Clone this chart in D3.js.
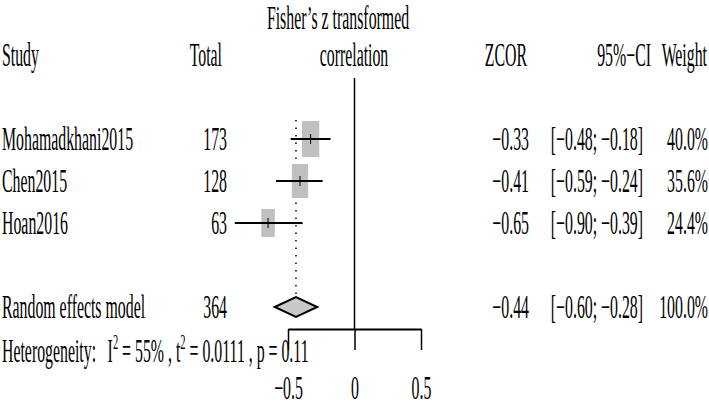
<!DOCTYPE html>
<html>
<head>
<meta charset="utf-8">
<script src="https://cdn.jsdelivr.net/npm/d3@7"></script>
<style>
  body { margin: 0; background: #fff; }
  text { font-family: "Liberation Serif", "Times New Roman", serif; fill: #000; }
</style>
</head>
<body>
<div id="forest"></div>
<script>
// study data
var studies = ["Mohamadkhani2015", "Chen2015", "Hoan2016"];
var totals = [173, 128, 63];
var zcor = [-0.33, -0.41, -0.65];
var lower = [-0.48, -0.59, -0.90];
var upper = [-0.18, -0.24, -0.39];
var weights = [40.0, 35.6, 24.4];

// pooled estimate
var pooledLabel = "Random effects model";
var pooledTotal = 364;
var pooledEst = -0.44;
var pooledLow = -0.60;
var pooledHigh = -0.28;
var pooledWeight = 100.0;

var xTicks = [-0.5, 0, 0.5];

var width = 709, height = 407;
var fontSize = 33;
var sx = 0.48; // narrow type, like the picture

var svg = d3.select("#forest").append("svg")
  .attr("width", width)
  .attr("height", height);

var x = d3.scaleLinear().domain([-0.5, 0.5]).range([288, 421]);
// row centres
var y = d3.scaleLinear().domain([0, 1]).range([139, 181]);

function fmt(v) { return d3.format(".2f")(v).replace("-", "\u2212"); }

function label(px, py, str, anchor) {
  return svg.append("text")
    .attr("transform", "translate(" + px + "," + py + ") scale(" + sx + ",1)")
    .attr("text-anchor", anchor || "start")
    .style("font-size", fontSize + "px")
    .text(str);
}

var base = 11; // centre -> baseline

// headers
label(338, 29, "Fisher\u2019s z transformed", "middle");
label(2, y(-2) + base, "Study");
label(222, y(-2) + base, "Total", "end");
label(354, y(-2) + base, "correlation", "middle");
label(527, y(-2) + base, "ZCOR", "end");
label(651, y(-2) + base, "95%\u2212CI", "end");
label(707, y(-2) + base, "Weight", "end");

// zero line
svg.append("line")
  .attr("x1", x(0)).attr("x2", x(0))
  .attr("y1", 78).attr("y2", 329)
  .attr("stroke", "#000").attr("stroke-width", 1.5);

// pooled dotted line
svg.append("line")
  .attr("x1", x(pooledEst)).attr("x2", x(pooledEst))
  .attr("y1", 120).attr("y2", y(4) - 10)
  .attr("stroke", "#000").attr("stroke-width", 1.5)
  .attr("stroke-dasharray", "1.5,6");

var sq = d3.scaleSqrt().domain([0, 40]).range([0, 36]);

var rows = svg.selectAll("g.study").data(studies).enter()
  .append("g").attr("class", "study");

rows.append("rect")
  .attr("x", function(d, i) { return x(zcor[i]) - sq(weights[i]) * 0.48 / 2; })
  .attr("y", function(d, i) { return y(i) - sq(weights[i]) / 2; })
  .attr("width", function(d, i) { return sq(weights[i]) * 0.48; })
  .attr("height", function(d, i) { return sq(weights[i]); })
  .attr("fill", "#c0c0c0");

rows.append("line")
  .attr("x1", function(d, i) { return x(lower[i]); })
  .attr("x2", function(d, i) { return x(upper[i]); })
  .attr("y1", function(d, i) { return y(i); })
  .attr("y2", function(d, i) { return y(i); })
  .attr("stroke", "#000").attr("stroke-width", 2);

rows.append("line")
  .attr("x1", function(d, i) { return x(zcor[i]); })
  .attr("x2", function(d, i) { return x(zcor[i]); })
  .attr("y1", function(d, i) { return y(i) - 5; })
  .attr("y2", function(d, i) { return y(i) + 5; })
  .attr("stroke", "#000").attr("stroke-width", 1);

studies.forEach(function(s, i) {
  var yy = y(i) + base;
  label(2, yy, s);
  label(227, yy, totals[i], "end");
  label(529, yy, fmt(zcor[i]), "end");
  label(643, yy, "[" + fmt(lower[i]) + "; " + fmt(upper[i]) + "]", "end");
  label(708, yy, d3.format(".1f")(weights[i]) + "%", "end");
});

// pooled diamond
var yp = y(4);
svg.append("path")
  .attr("d", "M" + x(pooledLow) + "," + yp +
    "L" + x(pooledEst) + "," + (yp - 10) +
    "L" + x(pooledHigh) + "," + yp +
    "L" + x(pooledEst) + "," + (yp + 10) + "Z")
  .attr("fill", "#c8c8c8")
  .attr("stroke", "#000").attr("stroke-width", 2);

label(2, yp + base, pooledLabel);
label(227, yp + base, pooledTotal, "end");
label(529, yp + base, fmt(pooledEst), "end");
label(643, yp + base, "[" + fmt(pooledLow) + "; " + fmt(pooledHigh) + "]", "end");
label(708, yp + base, d3.format(".1f")(pooledWeight) + "%", "end");

// heterogeneity
var het = label(2, 362, "Heterogeneity:");
het.append("tspan").attr("dx", 24).text("I");
het.append("tspan").attr("dy", -13).style("font-size", "22px").text("2");
het.append("tspan").attr("dy", 13).text(" = 55% , t");
het.append("tspan").attr("dy", -13).style("font-size", "22px").text("2");
het.append("tspan").attr("dy", 13).text(" = 0.0111 , p = 0.11");

// axis
var axis = svg.append("g")
  .attr("transform", "translate(0,329)")
  .call(d3.axisBottom(x).tickValues(xTicks).tickSize(21).tickSizeOuter(0)
    .tickFormat(function(d) { return d === 0 ? "0" : d3.format(".1f")(d); }));

axis.select(".domain").attr("stroke-width", 2);
axis.selectAll(".tick line").attr("stroke-width", 1.5);
axis.selectAll(".tick text")
  .attr("y", 70).attr("dy", 0)
  .attr("transform", "scale(" + sx + ",1)")
  .attr("font-family", null)
  .style("font-size", fontSize + "px");
</script>
</body>
</html>
